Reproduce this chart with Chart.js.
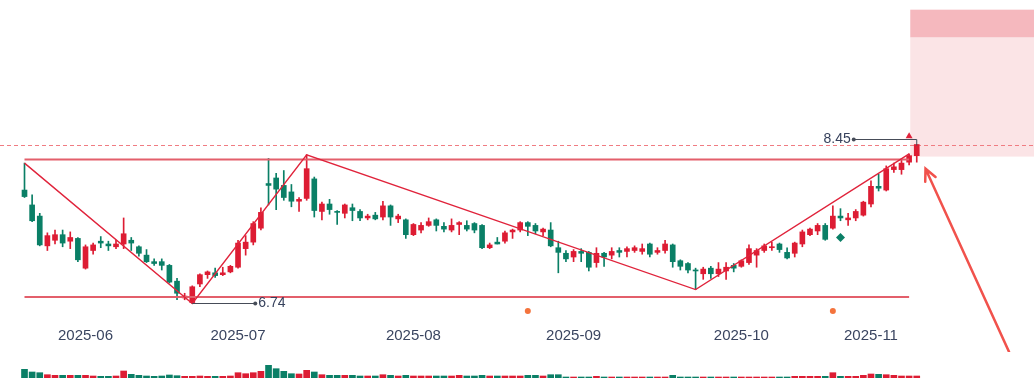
<!DOCTYPE html>
<html>
<head>
<meta charset="utf-8">
<title>K线</title>
<script src="https://cdn.jsdelivr.net/npm/chart.js@4.4.1/dist/chart.umd.min.js"></script>
<style>
  body { margin: 0; background: #fff; overflow: hidden; }
  #main { position: absolute; left: 0; top: 0; width: 1034px; height: 352px; }
  #vol { position: absolute; left: 0; top: 352px; width: 1034px; height: 32px; }
</style>
</head>
<body>
<div id="main"><canvas id="kline"></canvas></div>
<div id="vol"><canvas id="volume"></canvas></div>
<script>
// trading days
const dates = [
  '2025-05-21','2025-05-22','2025-05-23','2025-05-26','2025-05-27','2025-05-28','2025-05-29','2025-05-30',
  '2025-06-03','2025-06-04','2025-06-05','2025-06-06','2025-06-09','2025-06-10','2025-06-11','2025-06-12','2025-06-13',
  '2025-06-16','2025-06-17','2025-06-18','2025-06-19','2025-06-20','2025-06-23','2025-06-24','2025-06-25','2025-06-26',
  '2025-06-27','2025-06-30',
  '2025-07-01','2025-07-02','2025-07-03','2025-07-04','2025-07-07','2025-07-08','2025-07-09','2025-07-10','2025-07-11',
  '2025-07-14','2025-07-15','2025-07-16','2025-07-17','2025-07-18','2025-07-21','2025-07-22','2025-07-23','2025-07-24',
  '2025-07-25','2025-07-28','2025-07-29','2025-07-30','2025-07-31',
  '2025-08-01','2025-08-04','2025-08-05','2025-08-06','2025-08-07','2025-08-08','2025-08-11','2025-08-12','2025-08-13',
  '2025-08-14','2025-08-15','2025-08-18','2025-08-19','2025-08-20','2025-08-21','2025-08-22','2025-08-25','2025-08-26',
  '2025-08-27','2025-08-28','2025-08-29',
  '2025-09-01','2025-09-02','2025-09-03','2025-09-04','2025-09-05','2025-09-08','2025-09-09','2025-09-10','2025-09-11',
  '2025-09-12','2025-09-15','2025-09-16','2025-09-17','2025-09-18','2025-09-19','2025-09-22','2025-09-23','2025-09-24',
  '2025-09-25','2025-09-26','2025-09-29','2025-09-30',
  '2025-10-09','2025-10-10','2025-10-13','2025-10-14','2025-10-15','2025-10-16','2025-10-17','2025-10-20','2025-10-21',
  '2025-10-22','2025-10-23','2025-10-24','2025-10-27','2025-10-28','2025-10-29','2025-10-30','2025-10-31',
  '2025-11-03','2025-11-04','2025-11-05','2025-11-06','2025-11-07','2025-11-10','2025-11-11'
];

const openP = [
  7.96,7.80,7.68,7.36,7.42,7.48,7.41,7.44,7.12,7.31,7.41,7.38,7.35,7.38,7.42,7.35,7.26,7.19,7.19,7.15,
  6.98,6.80,6.75,6.95,7.05,7.07,7.05,7.08,7.13,7.33,7.40,7.55,8.03,8.09,8.01,7.94,7.84,7.87,8.08,7.73,
  7.81,7.73,7.71,7.77,7.73,7.66,7.69,7.67,7.79,7.65,7.64,7.48,7.53,7.58,7.64,7.57,7.53,7.59,7.58,7.60,
  7.58,7.34,7.40,7.41,7.51,7.53,7.61,7.58,7.51,7.53,7.34,7.28,7.24,7.30,7.29,7.18,7.28,7.26,7.31,7.30,
  7.31,7.30,7.38,7.29,7.31,7.37,7.20,7.17,7.10,7.06,7.12,7.06,7.09,7.15,7.14,7.18,7.26,7.31,7.34,7.38,
  7.29,7.28,7.38,7.48,7.52,7.58,7.55,7.68,7.64,7.66,7.69,7.81,8.00,7.96,8.18,8.18,8.26,8.33
];
const highP = [
  8.25,7.91,7.71,7.50,7.53,7.53,7.51,7.45,7.37,7.39,7.46,7.41,7.42,7.66,7.45,7.36,7.32,7.22,7.22,7.16,
  7.01,6.85,6.93,7.06,7.09,7.12,7.13,7.15,7.42,7.47,7.62,7.77,8.30,8.14,8.17,8.02,7.88,8.34,8.10,7.83,
  7.86,7.74,7.81,7.81,7.75,7.70,7.72,7.84,7.80,7.70,7.65,7.60,7.61,7.66,7.65,7.61,7.65,7.62,7.63,7.61,
  7.59,7.39,7.45,7.52,7.54,7.62,7.62,7.60,7.55,7.61,7.41,7.31,7.32,7.33,7.30,7.34,7.29,7.34,7.34,7.35,
  7.36,7.38,7.39,7.34,7.42,7.38,7.21,7.18,7.12,7.13,7.14,7.18,7.18,7.17,7.21,7.37,7.33,7.38,7.40,7.39,
  7.34,7.40,7.53,7.55,7.60,7.60,7.79,7.76,7.71,7.75,7.84,8.06,8.13,8.22,8.25,8.28,8.35,8.45
];
const lowP = [
  7.88,7.62,7.36,7.31,7.38,7.35,7.33,7.19,7.11,7.27,7.34,7.31,7.33,7.33,7.31,7.25,7.18,7.15,7.10,6.96,
  6.78,6.78,6.74,6.92,7.01,7.02,7.04,7.07,7.12,7.26,7.37,7.53,7.80,7.75,7.85,7.78,7.73,7.85,7.67,7.64,
  7.70,7.59,7.66,7.63,7.63,7.64,7.64,7.64,7.58,7.61,7.44,7.47,7.50,7.57,7.52,7.51,7.51,7.48,7.52,7.50,
  7.33,7.33,7.38,7.39,7.44,7.51,7.47,7.49,7.47,7.35,7.07,7.19,7.19,7.19,7.09,7.13,7.14,7.22,7.24,7.24,
  7.29,7.27,7.24,7.27,7.28,7.13,7.10,7.07,6.89,7.00,7.01,7.03,7.00,7.08,7.13,7.16,7.13,7.29,7.31,7.29,
  7.22,7.24,7.35,7.47,7.48,7.42,7.54,7.63,7.58,7.63,7.68,7.78,7.95,7.95,8.15,8.13,8.23,8.26
];
const closeP = [
  7.89,7.63,7.37,7.47,7.48,7.39,7.45,7.21,7.35,7.37,7.39,7.36,7.38,7.49,7.39,7.28,7.19,7.17,7.15,6.97,
  6.85,6.82,6.92,7.05,7.08,7.04,7.07,7.14,7.39,7.40,7.60,7.72,8.01,7.97,7.88,7.84,7.86,8.19,7.74,7.81,
  7.75,7.72,7.80,7.74,7.66,7.68,7.65,7.79,7.67,7.68,7.48,7.59,7.58,7.62,7.58,7.54,7.58,7.61,7.54,7.53,
  7.34,7.37,7.38,7.50,7.53,7.61,7.57,7.52,7.54,7.36,7.29,7.22,7.30,7.28,7.13,7.28,7.24,7.30,7.29,7.33,
  7.34,7.33,7.27,7.31,7.38,7.19,7.14,7.10,7.09,7.11,7.06,7.11,7.13,7.12,7.20,7.33,7.31,7.36,7.35,7.32,
  7.23,7.39,7.51,7.54,7.58,7.43,7.68,7.66,7.66,7.73,7.83,8.00,7.98,8.19,8.21,8.25,8.33,8.45
];
const volume = [
  87,60,53,33,27,27,27,27,27,20,17,17,20,70,37,27,20,17,20,30,
  23,17,17,20,17,17,17,20,53,43,53,67,127,93,67,43,40,77,60,33,
  27,27,27,27,20,20,20,33,27,20,27,20,20,20,20,20,20,27,20,20,
  27,20,20,20,20,20,27,27,20,33,33,10,10,10,10,17,10,10,10,10,
  10,10,10,10,10,27,10,10,10,10,10,10,10,10,10,10,10,10,10,10,
  10,17,17,17,17,17,53,17,17,17,27,40,37,33,27,20,20,20
];

// pattern overlays
const zigIdx = [0, 22, 37, 88, 116];
const zigPrice = [8.25, 6.74, 8.34, 6.89, 8.35];
const levelPrice = [8.29, 6.81];
const levelSpan = [0, 116];
const zonePrice = [9.90, 9.60, 8.32];
const upMarkIdx = [116], upMarkPrice = [8.54];
const diamondIdx = [107], diamondPrice = [7.45];
const eventIdx = [66, 106], eventPrice = 6.66;

const upColor = '#dd1c33';
const downColor = '#0a7f66';
const candleColor = closeP.map((c, i) => c >= openP[i] ? upColor : downColor);

const monthTicks = [];
dates.forEach((d, i) => {
  if (i > 0 && d.slice(0, 7) !== dates[i - 1].slice(0, 7)) monthTicks.push(i);
});

const xMin = -3.213, xMax = 132.376;
const last = dates.length - 1;

const overlay = {
  id: 'overlay',
  beforeDatasetsDraw(chart) {
    const {ctx, chartArea, scales: {x, y}} = chart;
    ctx.save();
    // target zone
    const zl = x.getPixelForValue(116.15);
    const z0 = y.getPixelForValue(zonePrice[0]);
    const z1 = y.getPixelForValue(zonePrice[1]);
    const z2 = y.getPixelForValue(zonePrice[2]);
    ctx.fillStyle = '#f5b8be';
    ctx.fillRect(zl, z0, chartArea.right - zl, z1 - z0);
    ctx.fillStyle = '#fbe4e6';
    ctx.fillRect(zl, z1, chartArea.right - zl, z2 - z1);
    // last price line
    const ly = Math.round(y.getPixelForValue(closeP[last])) + 0.5;
    ctx.strokeStyle = '#f07c82';
    ctx.lineWidth = 1;
    ctx.setLineDash([4, 3]);
    ctx.beginPath();
    ctx.moveTo(0, ly);
    ctx.lineTo(chart.width, ly);
    ctx.stroke();
    ctx.restore();
  },
  afterDatasetsDraw(chart) {
    const {ctx, scales: {x, y}} = chart;
    ctx.save();
    ctx.font = '14px "Liberation Sans", Arial, sans-serif';
    ctx.textBaseline = 'middle';
    ctx.strokeStyle = '#464c58';
    ctx.fillStyle = '#464c58';
    ctx.lineWidth = 1;

    // lowest low
    const lo = Math.min(...lowP);
    const loI = lowP.indexOf(lo);
    const lx = x.getPixelForValue(loI);
    const ly = Math.round(y.getPixelForValue(lo)) + 0.5;
    ctx.beginPath();
    ctx.moveTo(lx, ly);
    ctx.lineTo(lx + 63, ly);
    ctx.stroke();
    ctx.beginPath();
    ctx.arc(lx + 63, ly, 2, 0, Math.PI * 2);
    ctx.fill();
    ctx.fillStyle = '#36415c';
    ctx.textAlign = 'left';
    ctx.fillText(lo.toFixed(2), lx + 66, ly);

    // highest high
    const hi = Math.max(...highP);
    const hiI = highP.indexOf(hi);
    const hx = x.getPixelForValue(hiI);
    const hy = Math.round(y.getPixelForValue(hi)) + 0.5;
    ctx.fillStyle = '#464c58';
    ctx.beginPath();
    ctx.moveTo(hx, hy);
    ctx.lineTo(hx, hy - 6);
    ctx.lineTo(hx - 63, hy - 6);
    ctx.stroke();
    ctx.beginPath();
    ctx.arc(hx - 63, hy - 6, 2, 0, Math.PI * 2);
    ctx.fill();
    ctx.fillStyle = '#36415c';
    ctx.textAlign = 'right';
    ctx.fillText(hi.toFixed(2), hx - 66, hy - 6);

    // pointer arrow
    const ax1 = x.getPixelForValue(118.15), ay1 = y.getPixelForValue(8.19);
    const ax0 = x.getPixelForValue(129.1), ay0 = y.getPixelForValue(6.22);
    const ang = Math.atan2(ay0 - ay1, ax0 - ax1);
    ctx.strokeStyle = '#f1524c';
    ctx.lineWidth = 2.5;
    ctx.lineCap = 'round';
    ctx.beginPath();
    ctx.moveTo(ax0, ay0);
    ctx.lineTo(ax1, ay1);
    ctx.moveTo(ax1 + 13 * Math.cos(ang - 0.45), ay1 + 13 * Math.sin(ang - 0.45));
    ctx.lineTo(ax1, ay1);
    ctx.lineTo(ax1 + 13 * Math.cos(ang + 0.45), ay1 + 13 * Math.sin(ang + 0.45));
    ctx.stroke();
    ctx.restore();
  }
};

const kctx = document.getElementById('kline').getContext('2d');
new Chart(kctx, {
  type: 'bar',
  data: {
    datasets: [
      {
        type: 'line',
        data: zigIdx.map((v, k) => ({x: v, y: zigPrice[k]})),
        borderColor: '#e0233b',
        borderWidth: 1.4,
        pointRadius: 0,
        order: 0
      },
      ...levelPrice.map(p => ({
        type: 'line',
        data: levelSpan.map(v => ({x: v, y: p})),
        borderColor: '#e35f6b',
        borderWidth: 2,
        pointRadius: 0,
        order: 1
      })),
      {
        type: 'scatter',
        data: upMarkIdx.map((v, k) => ({x: v, y: upMarkPrice[k]})),
        pointStyle: 'triangle',
        pointRadius: 4,
        backgroundColor: '#e0233b',
        borderWidth: 0,
        order: 0
      },
      {
        type: 'scatter',
        data: diamondIdx.map((v, k) => ({x: v, y: diamondPrice[k]})),
        pointStyle: 'rectRot',
        pointRadius: 4.5,
        backgroundColor: downColor,
        borderWidth: 0,
        order: 0
      },
      {
        type: 'scatter',
        data: eventIdx.map(v => ({x: v, y: eventPrice})),
        pointStyle: 'circle',
        pointRadius: 3,
        backgroundColor: '#f4733c',
        borderWidth: 0,
        order: 0
      },
      {
        data: dates.map((d, i) => ({x: i, y: [openP[i], closeP[i]]})),
        backgroundColor: candleColor,
        barThickness: 5,
        minBarLength: 1,
        grouped: false,
        order: 2
      },
      {
        data: dates.map((d, i) => ({x: i, y: [lowP[i], highP[i]]})),
        backgroundColor: candleColor,
        barThickness: 1,
        grouped: false,
        order: 3
      }
    ]
  },
  options: {
    responsive: true,
    maintainAspectRatio: false,
    animation: false,
    layout: { padding: 0, autoPadding: false },
    plugins: { legend: { display: false }, tooltip: { enabled: false } },
    scales: {
      x: {
        type: 'linear',
        offset: false,
        min: xMin,
        max: xMax,
        grid: { display: false, drawTicks: false, offset: false },
        border: { display: false },
        afterBuildTicks: s => { s.ticks = monthTicks.map(v => ({value: v})); },
        afterFit: s => { s.height = 28; },
        ticks: {
          autoSkip: false,
          maxRotation: 0,
          padding: 3,
          color: '#3a4560',
          font: { family: '"Liberation Sans", Arial, sans-serif', size: 15 },
          callback: v => dates[v] ? dates[v].slice(0, 7) : ''
        }
      },
      y: { display: false, min: 6.5195, max: 10.0041 }
    }
  },
  plugins: [overlay]
});

const vctx = document.getElementById('volume').getContext('2d');
new Chart(vctx, {
  type: 'bar',
  data: {
    datasets: [{
      data: dates.map((d, i) => ({x: i, y: volume[i]})),
      backgroundColor: candleColor,
      barThickness: 6,
      grouped: false
    }]
  },
  options: {
    responsive: true,
    maintainAspectRatio: false,
    animation: false,
    layout: { padding: { bottom: 6 }, autoPadding: false },
    plugins: { legend: { display: false }, tooltip: { enabled: false } },
    scales: {
      x: { type: 'linear', offset: false, min: xMin, max: xMax, display: false },
      y: { display: false, min: 0, max: 260 }
    }
  }
});
</script>
</body>
</html>
